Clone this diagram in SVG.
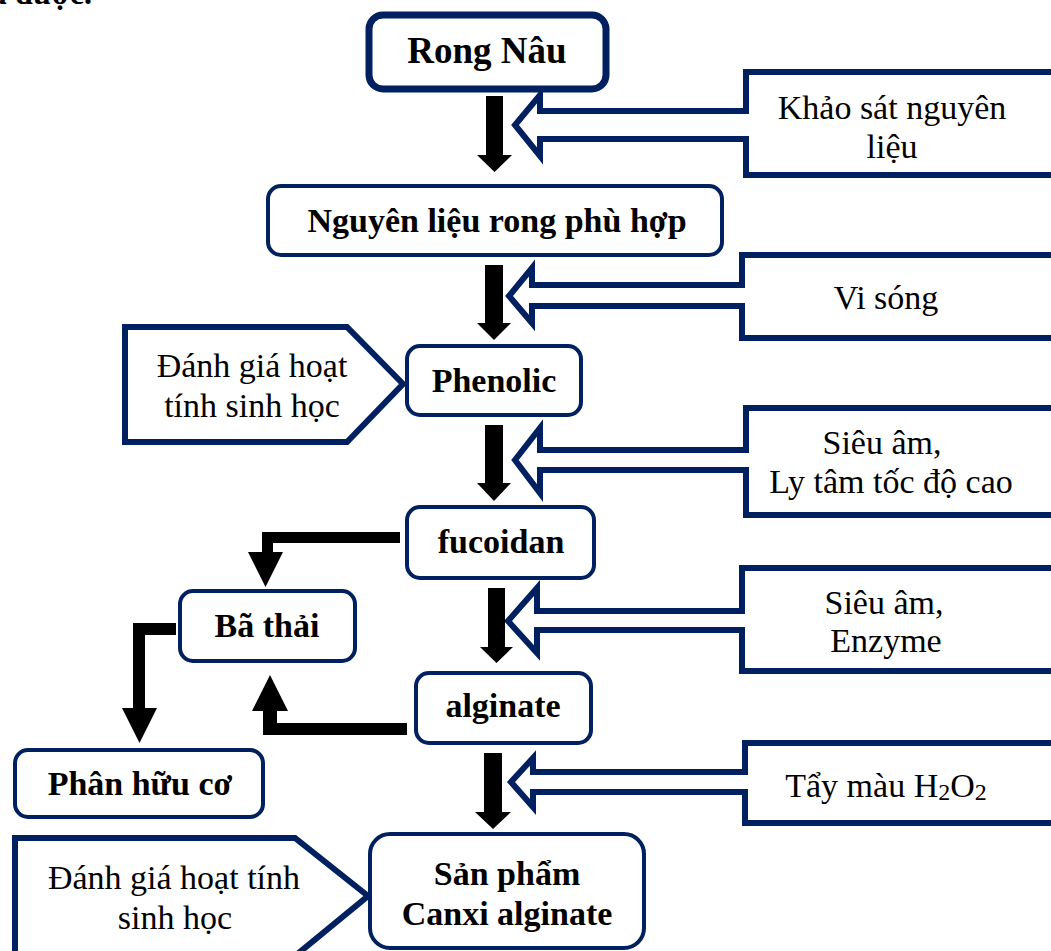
<svg xmlns="http://www.w3.org/2000/svg" width="1051" height="951" viewBox="0 0 1051 951">
<style>
.node{fill:#fff;stroke:#002060;stroke-width:4}
.call{fill:#fff;stroke:#002060;stroke-width:6;stroke-linejoin:miter}
.b{font-family:"Liberation Serif","Times New Roman",serif;font-weight:bold;font-size:34px;fill:#000;text-anchor:middle}
.r{font-family:"Liberation Serif","Times New Roman",serif;font-size:34px;fill:#000;text-anchor:middle}
.arr{fill:#000;stroke:none}
</style>
<rect width="1051" height="951" fill="#fff"/>
<text class="b" x="92" y="4" style="text-anchor:end;font-size:32px">thu được.</text>

<g id="callouts-right">
<g id="c-khaosat">
<path class="call" d="M1058,72 L746,72 L746,111 L540,111 L540,95 L515,125 L540,156 L540,139 L746,139 L746,175 L1058,175"/>
<text class="r" x="892" y="119">Khảo sát nguyên</text>
<text class="r" x="892" y="158">liệu</text>
</g>
<g id="c-visong">
<path class="call" d="M1058,255 L742,255 L742,285 L532,285 L532,268 L509,296 L532,323 L532,306 L742,306 L742,338 L1058,338"/>
<text class="r" x="886" y="309">Vi sóng</text>
</g>
<g id="c-sieuam1">
<path class="call" d="M1058,408 L746,408 L746,450 L540,450 L540,428 L515,460 L540,493 L540,470 L746,470 L746,515 L1058,515"/>
<text class="r" x="882" y="454">Siêu âm,</text>
<text class="r" x="891" y="493">Ly tâm tốc độ cao</text>
</g>
<g id="c-sieuam2">
<path class="call" d="M1058,568 L742,568 L742,611 L537,611 L537,588 L508,621 L537,653 L537,630 L742,630 L742,671 L1058,671"/>
<text class="r" x="884" y="614">Siêu âm,</text>
<text class="r" x="886" y="652">Enzyme</text>
</g>
<g id="c-taymau">
<path class="call" d="M1058,743 L745,743 L745,772 L533,772 L533,758 L511,782 L533,807 L533,792 L745,792 L745,823 L1058,823"/>
<text class="r" x="886" y="797">Tẩy màu H<tspan font-size="24" dy="3">2</tspan><tspan dy="-3">O</tspan><tspan font-size="24" dy="3">2</tspan></text>
</g>
</g>

<g id="callouts-left">
<g id="c-danhgia1">
<path class="call" d="M125,327 L347,327 L403,384 L347,442 L125,442 Z"/>
<text class="r" x="252" y="377">Đánh giá hoạt</text>
<text class="r" x="252" y="417">tính sinh học</text>
</g>
<g id="c-danhgia2">
<path class="call" d="M15,960 L15,838 L295,838 L368,896 L295,956"/>
<text class="r" x="174" y="889">Đánh giá hoạt tính</text>
<text class="r" x="175" y="929">sinh học</text>
</g>
</g>

<g id="connectors">
<path class="arr" d="M486,96 H503 V155 H512 L494.5,172 L477,155 H486 Z"/>
<path class="arr" d="M485,265 H503 V323 H511 L494,340 L477,323 H485 Z"/>
<path class="arr" d="M485,425 H503 V483 H511 L494,501 L477,483 H485 Z"/>
<path class="arr" d="M488,588 H505 V647 H513 L496.5,663 L480,647 H488 Z"/>
<path class="arr" d="M484,753 H502 V812 H511 L493,829 L475,812 H484 Z"/>
<path class="arr" d="M400,532 V543 H273 V552 H283 L265.5,587 L248,552 H262 V532 Z"/>
<path class="arr" d="M176,623 V635 H145 V708 H157 L139.5,743 L122,708 H133 V623 Z"/>
<path class="arr" d="M407,723 V735 H263 V711 H252 L270,675 L288,711 H277 V723 Z"/>
</g>

<g id="n-rongnau">
<rect x="369" y="15" width="237" height="74" rx="14" class="node" style="stroke-width:7"/>
<text class="b" x="487" y="63" style="font-size:37px">Rong Nâu</text>
</g>
<g id="n-nguyenlieu">
<rect x="268" y="186" width="454" height="69" rx="13" class="node"/>
<text class="b" x="497" y="232">Nguyên liệu rong phù hợp</text>
</g>
<g id="n-phenolic">
<rect x="407" y="346" width="174" height="69" rx="13" class="node"/>
<text class="b" x="494" y="392">Phenolic</text>
</g>
<g id="n-fucoidan">
<rect x="407" y="507" width="187" height="71" rx="13" class="node"/>
<text class="b" x="501" y="553">fucoidan</text>
</g>
<g id="n-bathai">
<rect x="180" y="591" width="175" height="70" rx="13" class="node"/>
<text class="b" x="267" y="637">Bã thải</text>
</g>
<g id="n-alginate">
<rect x="416" y="673" width="175" height="70" rx="13" class="node"/>
<text class="b" x="503" y="717">alginate</text>
</g>
<g id="n-phanhuuco">
<rect x="15" y="750" width="248" height="67" rx="13" class="node"/>
<text class="b" x="140" y="795">Phân hữu cơ</text>
</g>
<g id="n-sanpham">
<rect x="370" y="834" width="274" height="114" rx="20" class="node"/>
<text class="b" x="507" y="885">Sản phẩm</text>
<text class="b" x="507" y="925">Canxi alginate</text>
</g>
</svg>
